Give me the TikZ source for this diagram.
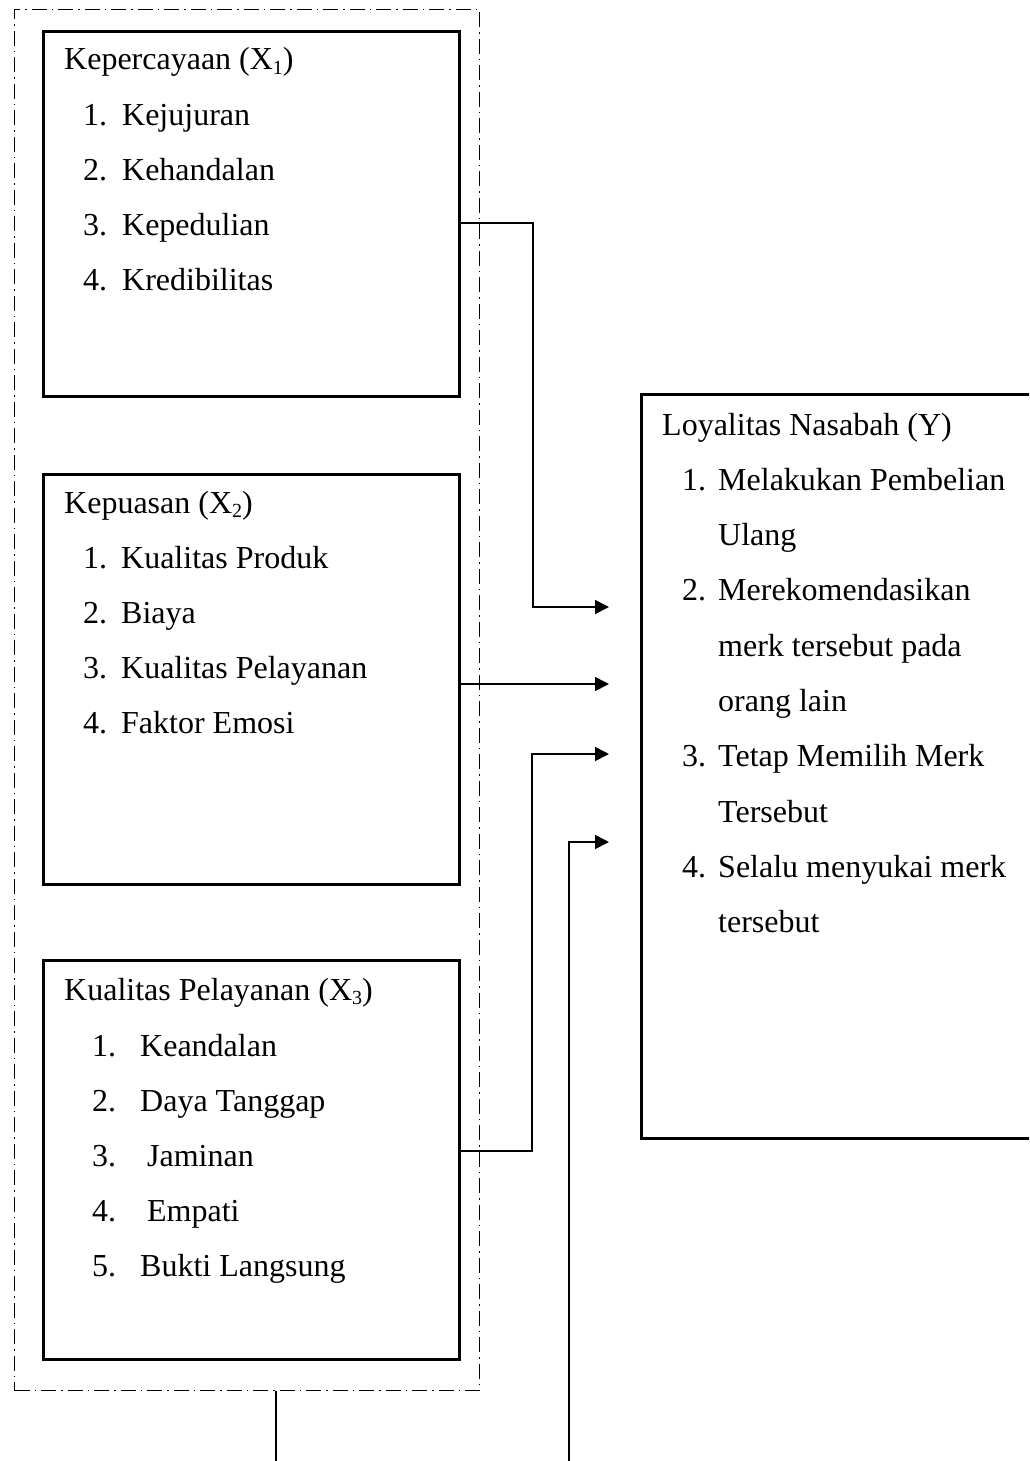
\documentclass[tikz,border=0pt]{standalone}
\usepackage{fontspec}
\setmainfont{Liberation Serif}
\usetikzlibrary{arrows.meta}
\newcommand{\xsub}[1]{X\raisebox{-0.13em}{\fontsize{20}{20}\selectfont #1}}
\newcommand{\itm}[2]{\makebox[#1][l]{#2}}
\begin{document}
\begin{tikzpicture}[x=1pt,y=-1pt,
  box/.style={draw, line width=3.3pt, inner sep=0pt, anchor=north west},
  grpbox/.style={draw, line width=1.1pt, dash pattern=on 15pt off 5pt on 1.5pt off 5pt, inner sep=0pt, anchor=north west},
  conn/.style={line width=1.6pt, -{Triangle[length=14pt,width=14pt]}},
  plainline/.style={line width=1.5pt},
  txt/.style={anchor=base west, inner sep=0pt, font=\fontsize{32}{38}\selectfont}]
\useasboundingbox (0,0) rectangle (1029,1461);
\clip (0,0) rectangle (1029,1461);

% group and boxes
\node[grpbox, minimum width=465pt, minimum height=1381pt] (grp) at (14,9) {};
\node[box, minimum width=416pt, minimum height=365pt] (x1) at (42,30) {};
\node[box, minimum width=416pt, minimum height=410pt] (x2) at (42,473) {};
\node[box, minimum width=416pt, minimum height=399pt] (x3) at (42,959) {};
\node[box, minimum width=410pt, minimum height=744pt] (y) at (640,393) {};

% X1 texts
\node[txt] (x1t) at (64,70) {Kepercayaan (\xsub{1})};
\node[txt] (x1a) at (83,125) {\itm{39pt}{1.}Kejujuran};
\node[txt] (x1b) at (83,180) {\itm{39pt}{2.}Kehandalan};
\node[txt] (x1c) at (83,235) {\itm{39pt}{3.}Kepedulian};
\node[txt] (x1d) at (83,290) {\itm{39pt}{4.}Kredibilitas};

% X2 texts
\node[txt] (x2t) at (64,513) {Kepuasan (\xsub{2})};
\node[txt] (x2a) at (83,568) {\itm{38pt}{1.}Kualitas Produk};
\node[txt] (x2b) at (83,623) {\itm{38pt}{2.}Biaya};
\node[txt] (x2c) at (83,678) {\itm{38pt}{3.}Kualitas Pelayanan};
\node[txt] (x2d) at (83,733) {\itm{38pt}{4.}Faktor Emosi};

% X3 texts
\node[txt] (x3t) at (64,1000) {Kualitas Pelayanan (\xsub{3})};
\node[txt] (x3a) at (92,1056) {\itm{48pt}{1.}Keandalan};
\node[txt] (x3b) at (92,1111) {\itm{48pt}{2.}Daya Tanggap};
\node[txt] (x3c) at (92,1166) {\itm{55pt}{3.}Jaminan};
\node[txt] (x3d) at (92,1221) {\itm{55pt}{4.}Empati};
\node[txt] (x3e) at (92,1276) {\itm{48pt}{5.}Bukti Langsung};

% Y texts
\node[txt] (yt) at (662,435) {Loyalitas Nasabah (Y)};
\node[txt] (ya1) at (682,490) {\itm{36pt}{1.}Melakukan Pembelian};
\node[txt] (ya2) at (718,545) {Ulang};
\node[txt] (yb1) at (682,600) {\itm{36pt}{2.}Merekomendasikan};
\node[txt] (yb2) at (718,656) {merk tersebut pada};
\node[txt] (yb3) at (718,711) {orang lain};
\node[txt] (yc1) at (682,766) {\itm{36pt}{3.}Tetap Memilih Merk};
\node[txt] (yc2) at (718,822) {Tersebut};
\node[txt] (yd1) at (682,877) {\itm{36pt}{4.}Selalu menyukai merk};
\node[txt] (yd2) at (718,932) {tersebut};

% arrow end points
\coordinate (a1) at (609,607);
\coordinate (a2) at (609,684);
\coordinate (a3) at (609,754);
\coordinate (a4) at (609,842);
\coordinate (b4) at (569,1461);
\coordinate (b5) at (276,1461);

% connectors
\draw[conn] (x1.north east) ++(0,193) -| (533,607) -- (a1);
\draw[conn] (x2.north east) ++(0,211) -- (a2);
\draw[conn] (x3.north east) ++(0,192) -| (532,754) -- (a3);
\draw[conn] (b4) |- (a4);
\draw[plainline] (grp.south west) ++(262,0) -- (b5);
\end{tikzpicture}
\end{document}
